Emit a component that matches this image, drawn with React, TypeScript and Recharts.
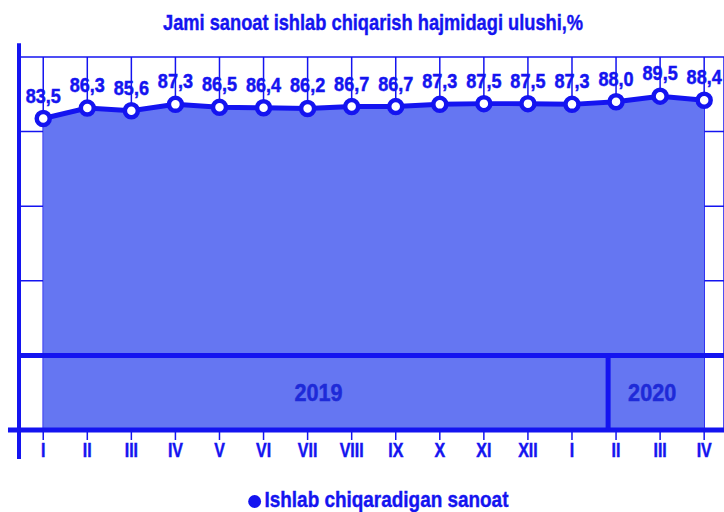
import React from "react";
import {
  Area,
  CartesianGrid,
  ComposedChart,
  LabelList,
  ReferenceArea,
  ReferenceLine,
  XAxis,
  YAxis,
} from "recharts";

const months = ["I", "II", "III", "IV", "V", "VI", "VII", "VIII", "IX", "X", "XI", "XII", "I", "II", "III", "IV"];
const share = [83.5, 86.3, 85.6, 87.3, 86.5, 86.4, 86.2, 86.7, 86.7, 87.3, 87.5, 87.5, 87.3, 88.0, 89.5, 88.4];
const yTicks = [0, 20, 40, 60, 80, 100];
const years = ["2019", "2020"];

const data = share.map((v, i) => ({ i, v }));
const xTicks = data.map((d) => d.i);

const BLUE = "#1414F0";
const FILL = "#6576F2";
const FONT = "'Liberation Sans', Arial, sans-serif";

const xMin = -0.55;
const xMax = 15.45;
const split = 12.82;

// squeezed bold text, looks like Arial Narrow
function NarrowText({ x, y, value, size, fill, sx, dy = 0 }: any) {
  return (
    <text
      transform={`translate(${x},${y}) scale(${sx},1)`}
      textAnchor="middle"
      dy={dy}
      fill={fill}
      stroke={fill}
      strokeWidth={0.5}
      fontSize={size}
      fontWeight={700}
      fontFamily={FONT}
    >
      {value}
    </text>
  );
}

const MonthTick = ({ x, y, payload }: any) => (
  <NarrowText x={x} y={y} dy={15} value={months[payload.value]} size={21} sx={0.76} fill={BLUE} />
);

const ValueLabel = ({ x, y, value }: any) => (
  <NarrowText x={x} y={y - 16} value={Number(value).toFixed(1).replace(".", ",")} size={21} sx={0.86} fill={BLUE} />
);

const YearLabel = ({ viewBox, value, dx = 0 }: any) => (
  <NarrowText
    x={viewBox.x + viewBox.width / 2 + dx}
    y={viewBox.y + viewBox.height / 2}
    dy={8}
    value={value}
    size={24}
    sx={0.9}
    fill="#1E2AD8"
  />
);

export default function App() {
  return (
    <div style={{ position: "relative", width: 724, height: 512, background: "#fff", fontFamily: FONT }}>
      <style>{"body{margin:0}"}</style>
      <div style={{ position: "absolute", top: 10, left: 11, width: 724, textAlign: "center", color: BLUE }}>
        <span
          style={{
            display: "inline-block",
            fontSize: 22,
            fontWeight: 700,
            transform: "scaleX(0.83)",
            WebkitTextStroke: "0.4px " + BLUE,
          }}
        >
          Jami sanoat ishlab chiqarish hajmidagi ulushi,%
        </span>
      </div>
      <ComposedChart width={724} height={512} data={data} margin={{ top: 57, right: 0, bottom: 52, left: 19 }}>
        <XAxis
          dataKey="i"
          type="number"
          domain={[xMin, xMax]}
          ticks={xTicks}
          axisLine={false}
          tickLine={{ stroke: BLUE, strokeWidth: 1.5 }}
          tickSize={10}
          tickMargin={2}
          tick={<MonthTick />}
          interval={0}
          allowDataOverflow
        />
        <YAxis hide domain={[0, 100]} ticks={yTicks} />
        <Area
          dataKey="v"
          type="linear"
          stroke={BLUE}
          strokeWidth={5}
          fill={FILL}
          fillOpacity={1}
          isAnimationActive={false}
          dot={{ r: 6.5, fill: "#fff", stroke: BLUE, strokeWidth: 4.5 }}
        >
          <LabelList dataKey="v" content={<ValueLabel />} />
        </Area>
        <CartesianGrid stroke={BLUE} strokeWidth={1.5} />
        <ReferenceLine y={20} stroke={BLUE} strokeWidth={5} />
        <ReferenceLine
          segment={[{ x: xMin - 0.25, y: 0 }, { x: xMax, y: 0 }]}
          stroke={BLUE}
          strokeWidth={5}
          ifOverflow="visible"
        />
        <ReferenceLine
          segment={[{ x: xMin, y: 103.7 }, { x: xMin, y: -7.8 }]}
          stroke={BLUE}
          strokeWidth={4}
          ifOverflow="visible"
        />
        <ReferenceLine segment={[{ x: split, y: 0 }, { x: split, y: 20 }]} stroke={BLUE} strokeWidth={5} />
        <ReferenceArea x1={xMin} x2={split} y1={0} y2={20} fillOpacity={0} strokeOpacity={0} label={<YearLabel value={years[0]} dx={5} />} />
        <ReferenceArea x1={split} x2={15} y1={0} y2={20} fillOpacity={0} strokeOpacity={0} label={<YearLabel value={years[1]} dx={-4} />} />
      </ComposedChart>
      <div style={{ position: "absolute", top: 487, left: 16, width: 724, textAlign: "center", color: BLUE }}>
        <span
          style={{
            display: "inline-block",
            fontSize: 22,
            fontWeight: 700,
            transform: "scaleX(0.86)",
            WebkitTextStroke: "0.4px " + BLUE,
          }}
        >
          <span
            style={{
              display: "inline-block",
              width: 15,
              height: 13,
              borderRadius: "50%",
              background: BLUE,
              marginRight: 4,
              verticalAlign: "middle",
            }}
          />
          Ishlab chiqaradigan sanoat
        </span>
      </div>
    </div>
  );
}
